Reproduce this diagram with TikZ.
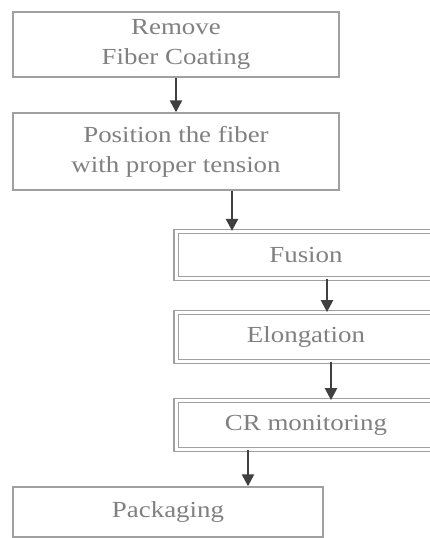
\documentclass[tikz,border=0pt]{standalone}
\usepackage{fontspec}
\setmainfont{Liberation Serif}[FakeStretch=1.17]
\usetikzlibrary{arrows.meta}
\definecolor{boxline}{RGB}{160,160,160}
\definecolor{txtgray}{RGB}{128,128,128}
\definecolor{arrowc}{RGB}{64,64,64}
\begin{document}
\begin{tikzpicture}[x=1pt,y=1pt,
  every node/.style={font=\fontsize{23}{30}\selectfont, text=txtgray, align=center, inner sep=0pt},
  singlebox/.style={draw=boxline, line width=1.4pt, rectangle},
  doublebox/.style={draw=boxline, line width=1.2pt, double=white, double distance=3pt, rectangle, minimum width=260pt, minimum height=47pt},
  arr/.style={draw=arrowc, line width=2.4pt, -{Triangle[width=12pt,length=12pt]}}
]
\useasboundingbox (0,0) rectangle (430,-538);
\begin{scope}
\clip (0,0) rectangle (430,-538);
\node[singlebox, minimum width=326pt, minimum height=65pt] (n1) at (176,-44.5) {Remove\\Fiber Coating};
\node[singlebox, minimum width=326pt, minimum height=77pt] (n2) at (176,-151.5) {Position the fiber\\with proper tension};
\node[doublebox] (fusion) at (306,-255) {Fusion};
\node[doublebox, minimum height=48.6pt] (elong) at (306,-337) {Elongation};
\node[doublebox, minimum height=48.6pt] (cr) at (306,-425) {CR monitoring};
\node[singlebox, minimum width=310pt, minimum height=50pt] (pack) at (168,-512) {Packaging};
\end{scope}
\draw[arr] (n1.south) -- (n2.north);
\draw[arr] ([xshift=56pt]n2.south) -- ([xshift=56pt]n2.south |- fusion.north);
\draw[arr] ([xshift=21pt]fusion.south) -- ([xshift=21pt]fusion.south |- elong.north);
\draw[arr] ([xshift=25pt]elong.south) -- ([xshift=25pt]elong.south |- cr.north);
\draw[arr] ([xshift=-58pt]cr.south) -- ([xshift=-58pt]cr.south |- pack.north);
\end{tikzpicture}
\end{document}
